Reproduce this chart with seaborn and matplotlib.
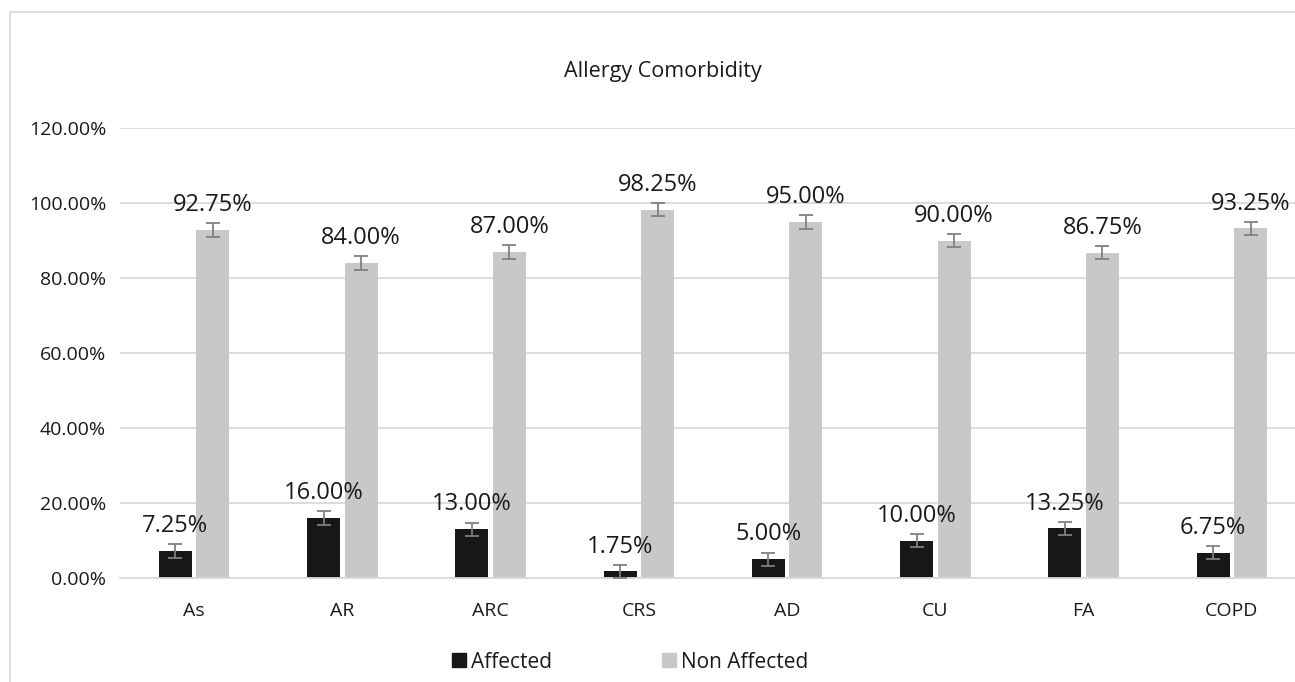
import pandas as pd
import matplotlib.pyplot as plt
import seaborn as sns
from matplotlib.lines import Line2D
from matplotlib.ticker import PercentFormatter

# Data
categories = ['As', 'AR', 'ARC', 'CRS', 'AD', 'CU', 'FA', 'COPD']
affected = [7.25, 16.00, 13.00, 1.75, 5.00, 10.00, 13.25, 6.75]
non_affected = [92.75, 84.00, 87.00, 98.25, 95.00, 90.00, 86.75, 93.25]
err = 1.8
groups = ['Affected', 'Non Affected']
colors = ['#171717', '#c8c8c8']

df = pd.DataFrame({
    'cat': categories * 2,
    'value': affected + non_affected,
    'group': ['Affected'] * len(categories) + ['Non Affected'] * len(categories),
})

sns.set_style('white')
plt.rcParams['font.family'] = ['Open Sans', 'DejaVu Sans']

fig = plt.figure(figsize=(12.95, 6.82), dpi=100)
ax = fig.add_axes([120 / 1295, 104 / 682, 1186 / 1295, 450 / 682])

sns.barplot(data=df, x='cat', y='value', hue='group', order=categories,
            hue_order=groups, palette=colors, width=0.506, gap=0.12,
            errorbar=None, legend=False, ax=ax, saturation=1, linewidth=0)

# error bars and labels on top of each bar
for p in ax.patches:
    h = p.get_height()
    if p.get_width() == 0:
        continue
    xc = p.get_x() + p.get_width() / 2
    ax.errorbar(xc, h, yerr=err, fmt='none', ecolor='#808080',
                elinewidth=1.3, capsize=5, capthick=1.3, zorder=3)
    ax.annotate(f'{h:.2f}%', (xc, h), xytext=(0, 13.5),
                textcoords='offset points', ha='center', va='baseline',
                fontsize=17, color='#1a1a1a')

ax.set_ylim(0, 120)
ax.set_yticks(range(0, 121, 20))
ax.yaxis.set_major_formatter(PercentFormatter(decimals=2))
ax.set_xlim(-0.5, len(categories) - 0.5)
ax.grid(axis='y', color='#d9d9d9', linewidth=1.3)
ax.set_axisbelow(True)
for s in ['top', 'right', 'left']:
    ax.spines[s].set_visible(False)
ax.spines['bottom'].set_color('#d9d9d9')
ax.spines['bottom'].set_linewidth(1.3)
ax.tick_params(axis='both', length=0, labelsize=14, colors='#1a1a1a')
ax.tick_params(axis='x', pad=17)
ax.tick_params(axis='y', pad=10)
ax.set_xlabel('')
ax.set_ylabel('')

fig.text(663 / 1295, 1 - 72 / 682, 'Allergy Comorbidity', ha='center',
         va='center', fontsize=15.5, color='#1a1a1a')

handles = [Line2D([0], [0], marker='s', linestyle='none', markersize=10.5,
                  markerfacecolor=c, markeredgecolor=c) for c in colors]
fig.legend(handles, groups, loc='center', bbox_to_anchor=(629 / 1295, 1 - 662 / 682),
           ncol=2, frameon=False, fontsize=15, handletextpad=0.1,
           columnspacing=5.2, handlelength=0.9, labelcolor='#1a1a1a')

# outer chart frame (left and top edges visible)
fig.add_artist(Line2D([10 / 1295, 10 / 1295], [0, 1 - 12 / 682],
                      transform=fig.transFigure, color='#d9d9d9', linewidth=1.3))
fig.add_artist(Line2D([10 / 1295, 1], [1 - 12 / 682, 1 - 12 / 682],
                      transform=fig.transFigure, color='#d9d9d9', linewidth=1.3))

fig.savefig('out.png', dpi=100, facecolor='white')
